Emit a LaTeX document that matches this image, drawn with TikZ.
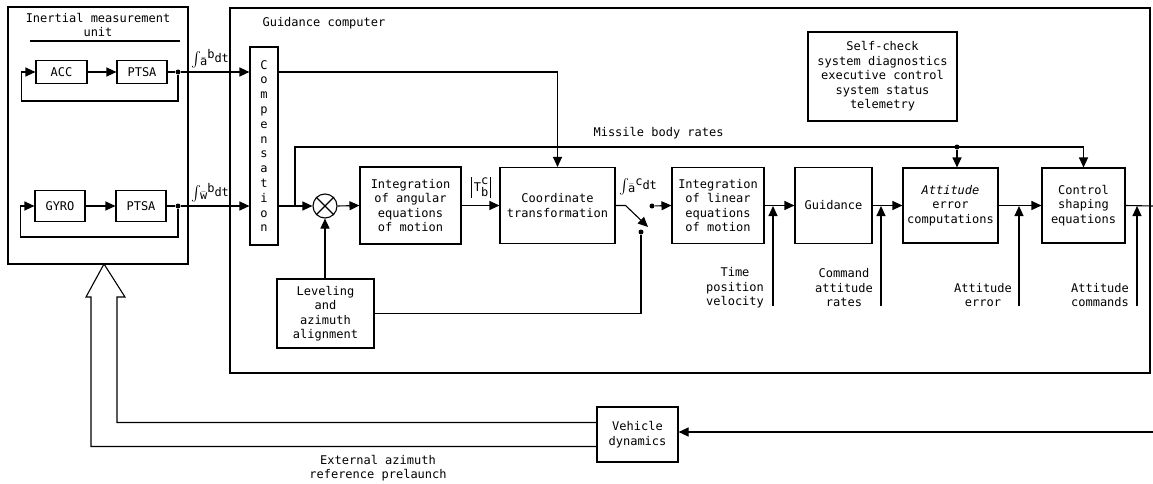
\documentclass[tikz,border=0pt]{standalone}
\usepackage{fontspec}
\setmonofont{DejaVu Sans Mono}
\usetikzlibrary{arrows.meta,positioning}

\newcommand{\intlbl}[2]{\raisebox{-2pt}{\scalebox{1.5}{$\int$}}\hspace{-1pt}\raisebox{-3pt}{$\bar{\mathtt{#1}}$}\raisebox{4pt}{#2}dt}
\newcommand{\tcbar}{\rule[-6pt]{0.8pt}{21pt}}

\begin{document}
\begin{tikzpicture}[x=1pt,y=-1pt,line width=1.1pt,
		font=\ttfamily\fontsize{12}{14.5}\selectfont,
		>={Triangle[length=10pt,width=9pt]},
		blk/.style={draw,align=center,inner sep=1pt},
		lbl/.style={align=center,inner sep=1pt},
		dot/.style={circle,fill,inner sep=0pt,minimum size=5pt}]
		\useasboundingbox (0,0) rectangle (1153,484);
		
		% inertial measurement unit
		\draw (8,7) rectangle (188,264);
		\node[lbl] (imutitle) at (98,25) {Inertial measurement\\unit};
		\draw (30,41) -- (180,41);
		\node[blk,minimum width=51pt,minimum height=23pt] (acc) at (61.5,72) {ACC};
		\node[blk,minimum width=50pt,minimum height=23pt] (ptsa1) at (142,72) {PTSA};
		\node[blk,minimum width=50pt,minimum height=31pt] (gyro) at (60,206) {GYRO};
		\node[blk,minimum width=50pt,minimum height=31pt] (ptsa2) at (141,206) {PTSA};
		\node[dot] (d1) at (178,72) {};
		\node[dot] (d2) at (178,206) {};
		\draw[->] (acc) -- (ptsa1);
		\draw[->] (gyro) -- (ptsa2);
		\draw (ptsa1.east) -- (d1);
		\draw (ptsa2.east) -- (d2);
		\draw[->] (d1) -- ++(0,29) -| ([xshift=-14pt]acc.west) -- (acc.west);
		\draw[->] (d2) -- ++(0,31) -| ([xshift=-14pt]gyro.west) -- (gyro.west);
		
		% guidance computer
		\draw (230,8) rectangle (1150,373);
		\node[lbl,anchor=west] (gctitle) at (261,23) {Guidance computer};
		\node[blk,minimum width=28pt,minimum height=198pt,
			font=\ttfamily\fontsize{12}{14.8}\selectfont] (comp) at (264,146)
			{C\\o\\m\\p\\e\\n\\s\\a\\t\\i\\o\\n};
		\draw[->] (d1) -- (d1 -| comp.west);
		\draw[->] (d2) -- (d2 -| comp.west);
		\node[lbl] (ablbl) at (210,59) {\intlbl{a}{b}};
		\node[lbl] (wblbl) at (210,193) {\intlbl{w}{b}};
		
		\node[draw,circle,minimum size=24pt,inner sep=0pt] (sum) at (325,206) {};
		\draw (sum.north west) -- (sum.south east) (sum.north east) -- (sum.south west);
		\node[blk,minimum width=101pt,minimum height=77pt] (intang) at (410.5,205.5)
			{Integration\\of angular\\equations\\of motion};
		\node[blk,minimum width=115pt,minimum height=76pt] (coord) at (557.5,205.5)
			{Coordinate\\transformation};
		\node[blk,minimum width=92pt,minimum height=76pt] (intlin) at (718,205.5)
			{Integration\\of linear\\equations\\of motion};
		\node[blk,minimum width=77pt,minimum height=76pt] (guid) at (833.5,205.5) {Guidance};
		\node[blk,minimum width=95pt,minimum height=75pt] (att) at (950.5,205.5)
			{\textit{Attitude}\\error\\computations};
		\node[blk,minimum width=83pt,minimum height=75pt] (ctrl) at (1083.5,205.5)
			{Control\\shaping\\equations};
		\node[blk,minimum width=97pt,minimum height=69pt] (level) at (325.5,313.5)
			{Leveling\\and\\azimuth\\alignment};
		\node[blk,minimum width=149pt,minimum height=89pt] (selfchk) at (882.5,76.5)
			{Self-check\\system diagnostics\\executive control\\system status\\telemetry};
		
		% compensation outputs
		\draw[->] (d1 -| comp.east) -| (coord.north);
		\coordinate (br) at (295,206);
		\draw (d2 -| comp.east) -- (br);
		\draw[->] (br) -- (sum.west);
		\draw[->] (sum.east) -- (intang.west);
		\draw[->] (intang.east) -- (coord.west);
		\node[lbl] (tcb) at (481,187)
			{\tcbar\,T\raisebox{-5pt}{\shortstack{c\\b}}\,\tcbar};
		\draw[->] (sum.south |- level.north) -- (sum.south);
		
		% missile body rates
		\node[dot] (mbdot) at (957,147) {};
		\draw[->] (br) -- (br |- mbdot) -| (ctrl.north);
		\draw[->] (mbdot) -- (mbdot |- att.north);
		\node[lbl,anchor=west] (mbr) at (592,133) {Missile body rates};
		
		% switch
		\node[dot] (sw1) at (652,206) {};
		\node[dot] (sw2) at (641,232) {};
		\coordinate (swend) at (648,227);
		\draw[->] (coord.east) -- ++(10,0) -- (swend);
		\draw (level.east) -| (sw2);
		\draw[->] (sw1) -- (intlin.west);
		\node[lbl] (aclbl) at (638,187) {\intlbl{a}{c}};
		
		\draw[->] (intlin.east) -- (guid.west);
		\draw[->] (guid.east) -- (att.west);
		\draw[->] (att.east) -- (ctrl.west);
		\coordinate (out) at (1153,206);
		\draw (ctrl.east) -- (out);
		
		% inputs from below
		\foreach \x [count=\i] in {773,881,1019,1137} {
			\coordinate (in\i) at (\x,306);
			\coordinate (jn\i) at (\x,206);
			\draw[->] (in\i) -- (jn\i);
		}
		\node[lbl] (tpv) at (735,288) {Time\\position\\velocity};
		\node[lbl] (car) at (844,288) {Command\\attitude\\rates};
		\node[lbl] (aerr) at (983,295) {Attitude\\error};
		\node[lbl] (acmd) at (1100,295) {Attitude\\commands};
		
		% vehicle dynamics and feedback
		\node[blk,minimum width=81pt,minimum height=55pt] (vdyn) at (637.5,434.5)
			{Vehicle\\dynamics};
		\coordinate (vin) at (1153,432);
		\draw[->] (vin) -- (vin -| vdyn.east);
		\draw ([yshift=12pt]vdyn.west) -| (117,297) -- (125,297) -- (104,264)
			-- (86,297) -- (91,297) |- ([yshift=-12pt]vdyn.west);
		\node[lbl] (extaz) at (378,468) {External azimuth\\reference prelaunch};
	\end{tikzpicture}
\end{document}
